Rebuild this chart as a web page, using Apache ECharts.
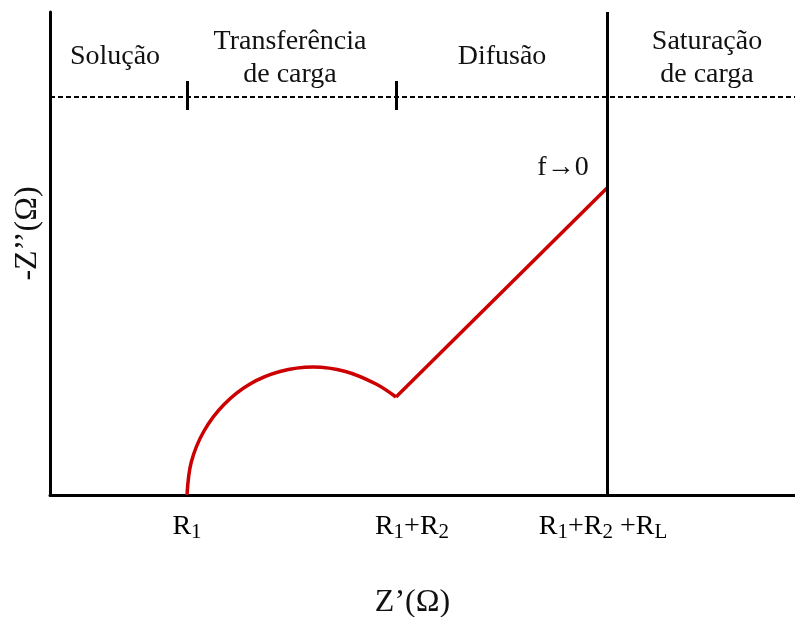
<!DOCTYPE html>
<html><head><meta charset="utf-8">
<script src="https://cdn.jsdelivr.net/npm/echarts@6/dist/echarts.min.js"></script>
<style>html,body{margin:0;padding:0;background:#fff;}#c{width:795px;height:617px;}</style>
</head><body><div id="c"></div>
<script>
// Characteristic resistances (arbitrary units along Z')
const R1 = 13.7;
const R1R2 = 34.6;
const R1R2RL = 55.7;
// Charge-transfer semicircle (Z', -Z'')
const arcPoints = [
  [13.7, 0], [14.13, 3.3], [15.4, 6.4], [17.4, 9.05], [20.0, 11.1], [23.0, 12.35],
  [26.3, 12.8], [29.55, 12.35], [32.6, 11.1], [34.6, 9.8]
];
// Diffusion (Warburg) line
const diffusionPoints = [[34.6, 9.8], [55.7, 30.7]];
// Region boundary level on -Z''
const regionLevel = 39.8;
const tickLabels = ['{r|R}{s|1}', '{r|R}{s|1}{r|+R}{s|2}', '{r|R}{s|1}{r|+R}{s|2}{r| +R}{s|L}'];
const tickValues = [R1, R1R2, R1R2RL];
const regionNames = ['Solução', 'Transferência\nde carga', 'Difusão', 'Saturação\nde carga'];

const FONT = '"Liberation Serif", "Times New Roman", serif';
const chart = echarts.init(document.getElementById('c'), null, {renderer: 'canvas'});
const labelOffsets = [[0, 0], [16, 0], [-4, 0]];
const rich = {
  r: {fontFamily: FONT, fontSize: 28, lineHeight: 30, verticalAlign: 'top', color: '#000', opacity: 1},
  s: {fontFamily: FONT, fontSize: 21, lineHeight: 10, verticalAlign: 'bottom', color: '#000', opacity: 1}
};
const regionPos = [[115, 57], [290, 58], [502, 57], [707, 58]];

chart.setOption({
  animation: false,
  backgroundColor: '#fff',
  grid: {left: 50, right: 0, top: 12, bottom: 122, outerBoundsMode: 'none', containLabel: false},
  xAxis: {
    type: 'value', min: 0, max: 74.5,
    axisLine: {show: true, lineStyle: {color: '#000', width: 3}},
    axisTick: {show: false}, axisLabel: {show: false}, splitLine: {show: false},
    name: 'Z’(Ω)', nameLocation: 'middle', nameGap: 92,
    nameTextStyle: {fontFamily: FONT, fontSize: 32, color: '#111', padding: [0, 20, 0, 0]}
  },
  yAxis: {
    type: 'value', min: 0, max: 48.3,
    axisLine: {show: true, lineStyle: {color: '#000', width: 3}},
    axisTick: {show: false}, axisLabel: {show: false}, splitLine: {show: false},
    name: '-Z’’(Ω)', nameLocation: 'middle', nameGap: 6,
    nameTextStyle: {fontFamily: FONT, fontSize: 32, color: '#111', padding: [0, 0, 0, 40]}
  },
  graphic: regionNames.map((t, i) => ({
    type: 'text', x: regionPos[i][0], y: regionPos[i][1], silent: true,
    style: {text: t, fill: '#111', font: '28px ' + FONT, align: 'center', verticalAlign: 'middle', lineHeight: 33}
  })).concat([{
    type: 'text', x: 563, y: 168, silent: true,
    style: {text: 'f→0', fill: '#111', font: '28px ' + FONT, align: 'center', verticalAlign: 'middle'}
  }]),
  series: [
    {
      type: 'line', data: arcPoints, smooth: 0.35, symbol: 'none',
      lineStyle: {color: '#cc0000', width: 3.5}
    },
    {
      type: 'line', data: diffusionPoints, symbol: 'none',
      lineStyle: {color: '#cc0000', width: 3.5},
      markLine: {
        silent: true, symbol: ['none', 'none'], label: {show: false},
        data: [
          {yAxis: regionLevel, lineStyle: {color: '#000', width: 2, type: [5, 3]}},
          {xAxis: R1R2RL, lineStyle: {color: '#000', width: 3, type: 'solid'}},
          [{coord: [R1, regionLevel - 1.3], lineStyle: {color: '#000', width: 3, type: 'solid'}}, {coord: [R1, regionLevel + 1.6]}],
          [{coord: [R1R2, regionLevel - 1.3], lineStyle: {color: '#000', width: 3, type: 'solid'}}, {coord: [R1R2, regionLevel + 1.6]}]
        ]
      }
    },
    {
      type: 'scatter', symbolSize: 0, itemStyle: {color: '#000'}, silent: true,
      emphasis: {disabled: true},
      data: tickValues.map((v, i) => ({
        value: [v, 0],
        label: {show: true, position: 'bottom', distance: 18, offset: labelOffsets[i], color: '#000',
          opacity: 1, formatter: tickLabels[i], rich: rich}
      }))
    }
  ]
});
</script>
</body></html>
